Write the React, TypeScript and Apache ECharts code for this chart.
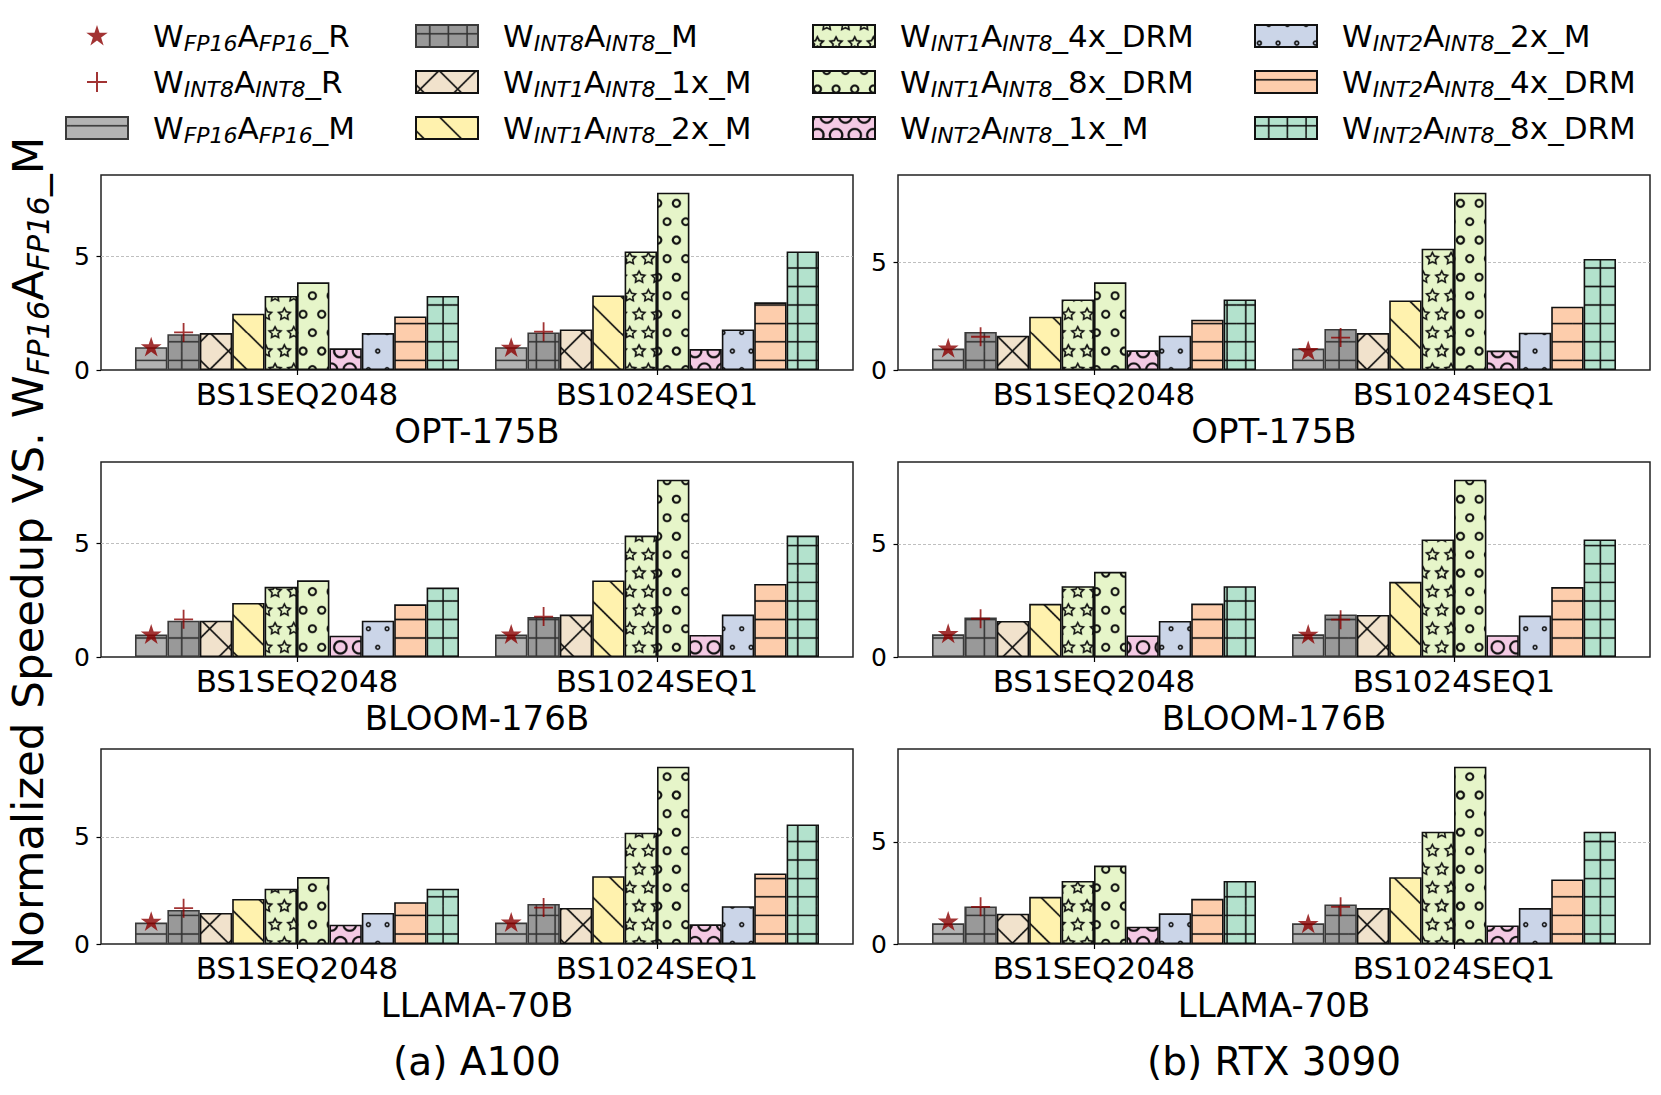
import React, { useEffect, useRef } from 'react';
import * as echarts from 'echarts';

const FONT = 'DejaVu Sans';

// ---------- categories / labels ----------
const GROUPS = ['BS1SEQ2048', 'BS1024SEQ1'];
const MODELS = ['OPT-175B', 'BLOOM-176B', 'LLAMA-70B'];
const GPU_TITLES = ['(a) A100', '(b) RTX 3090'];
const X_TICKS = [0, 1];
const Y_TICKS = [0, 5];

const BAR_NAMES = [
  'W_FP16A_FP16_M',
  'W_INT8A_INT8_M',
  'W_INT1A_INT8_1x_M',
  'W_INT1A_INT8_2x_M',
  'W_INT1A_INT8_4x_DRM',
  'W_INT1A_INT8_8x_DRM',
  'W_INT2A_INT8_1x_M',
  'W_INT2A_INT8_2x_M',
  'W_INT2A_INT8_4x_DRM',
  'W_INT2A_INT8_8x_DRM',
];
const MARKER_NAMES = ['W_FP16A_FP16_R', 'W_INT8A_INT8_R'];

// ---------- data: bar values per panel & group (order = BAR_NAMES) ----------
const A100_OPT_BS1 = [1.0, 1.57, 1.62, 2.47, 3.25, 3.85, 0.95, 1.62, 2.35, 3.25];
const A100_OPT_BS1024 = [1.0, 1.65, 1.78, 3.27, 5.2, 7.78, 0.92, 1.78, 2.97, 5.2];
const A100_BLOOM_BS1 = [0.99, 1.6, 1.6, 2.38, 3.09, 3.38, 0.94, 1.6, 2.32, 3.06];
const A100_BLOOM_BS1024 = [0.99, 1.76, 1.87, 3.37, 5.35, 7.81, 0.97, 1.87, 3.22, 5.35];
const A100_LLAMA_BS1 = [1.0, 1.59, 1.45, 2.1, 2.58, 3.12, 0.9, 1.45, 1.95, 2.58];
const A100_LLAMA_BS1024 = [1.0, 1.87, 1.68, 3.16, 5.19, 8.27, 0.92, 1.76, 3.29, 5.58];
const RTX_OPT_BS1 = [0.99, 1.76, 1.59, 2.47, 3.27, 4.06, 0.91, 1.59, 2.33, 3.27];
const RTX_OPT_BS1024 = [0.99, 1.9, 1.71, 3.22, 5.62, 8.21, 0.9, 1.73, 2.93, 5.14];
const RTX_BLOOM_BS1 = [1.0, 1.74, 1.59, 2.35, 3.13, 3.76, 0.95, 1.59, 2.36, 3.13];
const RTX_BLOOM_BS1024 = [1.0, 1.88, 1.86, 3.32, 5.19, 7.83, 0.96, 1.83, 3.09, 5.19];
const RTX_LLAMA_BS1 = [1.01, 1.84, 1.48, 2.31, 3.09, 3.84, 0.85, 1.5, 2.21, 3.09];
const RTX_LLAMA_BS1024 = [1.01, 1.94, 1.76, 3.27, 5.5, 8.68, 0.91, 1.76, 3.16, 5.5];

// markers [W_FP16A_FP16_R, W_INT8A_INT8_R] per group
const A100_OPT_R = [[0.98, 1.65], [0.96, 1.68]];
const A100_BLOOM_R = [[0.97, 1.66], [0.97, 1.78]];
const A100_LLAMA_R = [[1.02, 1.67], [0.98, 1.7]];
const RTX_OPT_R = [[0.98, 1.54], [0.86, 1.5]];
const RTX_BLOOM_R = [[1.0, 1.69], [0.97, 1.65]];
const RTX_LLAMA_R = [[1.08, 1.82], [0.96, 1.82]];

const PANELS = [
  { col: 0, row: 0, bars: [A100_OPT_BS1, A100_OPT_BS1024], marks: A100_OPT_R },
  { col: 0, row: 1, bars: [A100_BLOOM_BS1, A100_BLOOM_BS1024], marks: A100_BLOOM_R },
  { col: 0, row: 2, bars: [A100_LLAMA_BS1, A100_LLAMA_BS1024], marks: A100_LLAMA_R },
  { col: 1, row: 0, bars: [RTX_OPT_BS1, RTX_OPT_BS1024], marks: RTX_OPT_R },
  { col: 1, row: 1, bars: [RTX_BLOOM_BS1, RTX_BLOOM_BS1024], marks: RTX_BLOOM_R },
  { col: 1, row: 2, bars: [RTX_LLAMA_BS1, RTX_LLAMA_BS1024], marks: RTX_LLAMA_R },
];

// ---------- styles ----------
const FILLS = ['#b3b3b3', '#999999', '#f1e2cc', '#fff2ae', '#e6f5c9', '#e6f5c9', '#f4cae4', '#cbd5e8', '#fdcdac', '#b3e2cd'];
const HATCHES = ['-', '+', 'x', '\\', '*', 'o', 'O', '.', '-', '+'];
const EDGES = ['#3a3a3a', '#3a3a3a', '#111', '#111', '#111', '#111', '#111', '#111', '#111', '#111'];
const HATCH_COLORS = ['#333', '#333', '#111', '#111', '#111', '#111', '#111', '#111', '#111', '#111'];
const MARK_COLOR = '#8b0000';

// ---------- layout ----------
const W = 1661;
const H = 1095;
const COL_LEFT = [101, 898];
const ROW_TOP = [175, 462, 749];
const PANEL_W = 752;
const PANEL_H = 195;
const X_MIN = -0.5444;
const X_MAX = 1.5444;
const BAR_UNIT = 0.09;
const CELL_W = 112;
const CELL_H = 111;
const PH_X = 4.4;
const PH_Y = 18.2;
const HATCH_LW = 1.55;

function makePattern(kind: string, bg: string, fg: string) {
  const S = 3;
  const cv = document.createElement('canvas');
  cv.width = Math.round(CELL_W * S);
  cv.height = Math.round(CELL_H * S);
  const ctx = cv.getContext('2d') as CanvasRenderingContext2D;
  ctx.setTransform(cv.width / CELL_W, 0, 0, cv.height / CELL_H, 0, 0);
  ctx.fillStyle = bg;
  ctx.fillRect(0, 0, CELL_W, CELL_H);
  ctx.strokeStyle = fg;
  ctx.lineWidth = HATCH_LW;
  const px = (u: number, v: number) => [PH_X + u * CELL_W, PH_Y + (1 - v) * CELL_H];
  const copies = (fn: (dx: number, dy: number) => void) => {
    for (let i = -1; i <= 1; i++) for (let j = -1; j <= 1; j++) fn(i * CELL_W, j * CELL_H);
  };
  const seg = (u1: number, v1: number, u2: number, v2: number) => {
    const [x1, y1] = px(u1, v1);
    const [x2, y2] = px(u2, v2);
    copies((dx, dy) => {
      ctx.beginPath();
      ctx.moveTo(x1 + dx, y1 + dy);
      ctx.lineTo(x2 + dx, y2 + dy);
      ctx.stroke();
    });
  };
  const shapes = (draw: (cx: number, cy: number) => void) => {
    for (let i = 0; i <= 6; i++) {
      const v = i / 6;
      const cols = i % 2 === 0 ? [0, 1, 2, 3, 4, 5, 6].map((j) => j / 6) : [0, 1, 2, 3, 4, 5].map((j) => (j + 0.5) / 6);
      cols.forEach((u) => {
        const [cx, cy] = px(u, v);
        copies((dx, dy) => draw(cx + dx, cy + dy));
      });
    }
  };
  if (kind === '-' || kind === '+') {
    for (let k = 0; k < 6; k++) seg(0, (k + 0.5) / 6, 1, (k + 0.5) / 6);
  }
  if (kind === '+') {
    for (let k = 0; k < 6; k++) seg((k + 0.5) / 6, 0, (k + 0.5) / 6, 1);
  }
  if (kind === 'x') {
    for (let k = -3; k <= 3; k++) seg(k / 3, 0, k / 3 + 1, 1);
  }
  if (kind === 'x' || kind === '\\') {
    for (let k = 0; k <= 6; k++) seg(k / 3, 0, k / 3 - 1, 1);
  }
  if (kind === '*') {
    const rx = CELL_W / 18;
    const ry = CELL_H / 18;
    ctx.lineJoin = 'miter';
    shapes((cx, cy) => {
      ctx.beginPath();
      for (let t = 0; t < 10; t++) {
        const a = Math.PI / 2 + (t * Math.PI) / 5;
        const r = t % 2 === 0 ? 1 : 0.5;
        const x = cx + r * rx * Math.cos(a);
        const y = cy - r * ry * Math.sin(a);
        if (t === 0) ctx.moveTo(x, y);
        else ctx.lineTo(x, y);
      }
      ctx.closePath();
      ctx.stroke();
    });
  }
  const circle = (size: number, lw: number, scale: number) => {
    const rx = (CELL_W / 6) * size * scale;
    const ry = (CELL_H / 6) * size * scale;
    ctx.lineWidth = lw;
    shapes((cx, cy) => {
      ctx.beginPath();
      ctx.ellipse(cx, cy, rx, ry, 0, 0, Math.PI * 2);
      ctx.stroke();
    });
  };
  if (kind === 'o') circle(0.2, HATCH_LW + 0.45, 0.95);
  if (kind === 'O') circle(0.35, HATCH_LW + 0.6, 0.95);
  if (kind === '.') circle(0.1, HATCH_LW, 1);
  return { image: cv, repeat: 'repeat', imageWidth: CELL_W, imageHeight: CELL_H };
}

function starPts() {
  const pts: string[] = [];
  for (let t = 0; t < 10; t++) {
    const a = -Math.PI / 2 + (t * Math.PI) / 5;
    const r = t % 2 === 0 ? 1 : 0.381966;
    pts.push(`${(r * Math.cos(a)).toFixed(4)},${(r * Math.sin(a)).toFixed(4)}`);
  }
  return 'M' + pts.join('L') + 'Z';
}
const STAR = 'path://M0,1' + starPts();
const PLUS = 'path://M-1,0L1,0M0,-1L0,1';
const LEG_STAR = 'path://M0,0.95' + starPts();
const LEG_PLUS = 'path://M-1.1,-1.1M1.1,1.1M-1,0L1,0M0,-1L0,1';

function richName(name: string) {
  const m = name.match(/^W_(.+?)A_([^_]+)(_.*)$/);
  if (!m) return `{n|${name}}`;
  return `{n|W}{s|${m[1]}}{n|A}{s|${m[2]}}{n|${m[3]}}`;
}

const LEG_RICH = {
  sp: { width: 20, fontSize: 10, lineHeight: 36 },
  n: { fontFamily: FONT, fontSize: 31, lineHeight: 36, color: '#000' },
  s: { fontFamily: FONT, fontSize: 22, fontStyle: 'italic', lineHeight: 19, verticalAlign: 'bottom', color: '#000' },
};
const YL_RICH = {
  n: { fontFamily: FONT, fontSize: 43.5, lineHeight: 50, color: '#000' },
  s: { fontFamily: FONT, fontSize: 30.5, fontStyle: 'italic', lineHeight: 26, verticalAlign: 'bottom', color: '#000' },
};

function buildOption() {
  const patterns = HATCHES.map((h, i) => makePattern(h, FILLS[i], HATCH_COLORS[i]));
  const pxPerUnit = PANEL_W / (X_MAX - X_MIN);
  const barWidth = BAR_UNIT * pxPerUnit;
  const grid: any[] = [];
  const xAxis: any[] = [];
  const yAxis: any[] = [];
  const series: any[] = [];
  PANELS.forEach((p, pi) => {
    grid.push({
      left: COL_LEFT[p.col], top: ROW_TOP[p.row], width: PANEL_W, height: PANEL_H,
      show: true, borderColor: '#222', borderWidth: 1.5, backgroundColor: 'rgba(0,0,0,0)',
      containLabel: false, outerBoundsMode: 'none',
    });
    xAxis.push({
      type: 'value', gridIndex: pi, min: X_MIN, max: X_MAX, position: 'bottom',
      axisLine: { show: false, onZero: false },
      splitLine: { show: false },
      axisTick: { show: true, customValues: X_TICKS, length: 5, lineStyle: { color: '#000', width: 1.2 } },
      axisLabel: {
        customValues: X_TICKS, formatter: (v: number) => GROUPS[Math.round(v)] || '',
        fontFamily: FONT, fontSize: 31, color: '#000', margin: 8.5,
      },
      name: MODELS[p.row], nameLocation: 'middle', nameGap: 44, nameMoveOverlap: false,
      nameTextStyle: { fontFamily: FONT, fontSize: 34, color: '#000' },
    });
    const maxV = Math.max(...p.bars[0], ...p.bars[1]);
    yAxis.push({
      type: 'value', gridIndex: pi, min: 0, max: maxV * 1.1, interval: 5, position: 'left',
      axisLine: { show: false, onZero: false },
      axisTick: { show: true, customValues: Y_TICKS, length: 4.5, lineStyle: { color: '#000', width: 1.2 } },
      axisLabel: { customValues: Y_TICKS, fontFamily: FONT, fontSize: 25, color: '#000', margin: 11 },
      splitLine: { show: true, showMinLine: false, showMaxLine: true, lineStyle: { type: [3, 2], color: '#b8b8b8', width: 0.9 } },
    });
    BAR_NAMES.forEach((name, si) => {
      series.push({
        type: 'bar', name, xAxisIndex: pi, yAxisIndex: pi,
        data: X_TICKS.map((x, gi) => [x, p.bars[gi][si]]),
        barWidth, barGap: '0%',
        itemStyle: { color: patterns[si], borderColor: EDGES[si], borderWidth: 1.6 },
        emphasis: { disabled: true }, silent: true,
      });
    });
    series.push({
      type: 'scatter', name: MARKER_NAMES[0], xAxisIndex: pi, yAxisIndex: pi,
      data: X_TICKS.map((x, gi) => [x + (0.5 - BAR_NAMES.length / 2) * BAR_UNIT, p.marks[gi][0]]),
      symbol: STAR, symbolSize: 22, symbolKeepAspect: true,
      itemStyle: { color: MARK_COLOR }, z: 5, emphasis: { disabled: true }, silent: true,
    });
    series.push({
      type: 'scatter', name: MARKER_NAMES[1], xAxisIndex: pi, yAxisIndex: pi,
      data: X_TICKS.map((x, gi) => [x + (1.5 - BAR_NAMES.length / 2) * BAR_UNIT, p.marks[gi][1]]),
      symbol: PLUS, symbolSize: 19, symbolKeepAspect: true,
      itemStyle: { color: 'rgba(0,0,0,0)', borderColor: MARK_COLOR, borderWidth: 1.8 },
      z: 5, emphasis: { disabled: true }, silent: true,
    });
  });

  const LEGEND_COLS = [
    { left: 65, names: [MARKER_NAMES[0], MARKER_NAMES[1], BAR_NAMES[0]] },
    { left: 415, names: BAR_NAMES.slice(1, 4) },
    { left: 812, names: BAR_NAMES.slice(4, 7) },
    { left: 1254, names: BAR_NAMES.slice(7, 10) },
  ];
  const legend = LEGEND_COLS.map((c) => ({
    left: c.left, top: 20.5, orient: 'vertical', padding: 0,
    itemWidth: 62, itemHeight: 22, itemGap: 12.5, icon: 'rect', selectedMode: false,
    data: c.names.map((n) =>
      n === MARKER_NAMES[0] ? { name: n, icon: LEG_STAR } : n === MARKER_NAMES[1] ? { name: n, icon: LEG_PLUS } : { name: n }
    ),
    formatter: (n: string) => '{sp| }' + richName(n),
    textStyle: { rich: LEG_RICH, color: '#000' },
  }));

  const graphic: any[] = [
    {
      type: 'text', x: 28, y: 553, rotation: Math.PI / 2, silent: true,
      style: {
        text: '{n|Normalized Speedup VS. W}{s|FP16}{n|A}{s|FP16}{n|_M}',
        rich: YL_RICH, align: 'center', verticalAlign: 'middle', fill: '#000',
      },
    },
    ...GPU_TITLES.map((t, i) => ({
      type: 'text', x: COL_LEFT[i] + PANEL_W / 2, y: 1061, silent: true,
      style: { text: t, fontFamily: FONT, fontSize: 39, fill: '#000', align: 'center', verticalAlign: 'middle' },
    })),
  ];

  return {
    animation: false,
    backgroundColor: '#ffffff',
    grid, xAxis, yAxis, series, legend, graphic,
  };
}

export default function App() {
  const ref = useRef<HTMLDivElement>(null);
  useEffect(() => {
    if (!ref.current) return;
    const chart = echarts.init(ref.current, null, { renderer: 'svg', width: W, height: H });
    chart.setOption(buildOption() as any);
    return () => chart.dispose();
  }, []);
  return (
    <div
      ref={ref}
      style={{ position: 'absolute', left: 0, top: 0, width: W, height: H, background: '#fff' }}
    />
  );
}
